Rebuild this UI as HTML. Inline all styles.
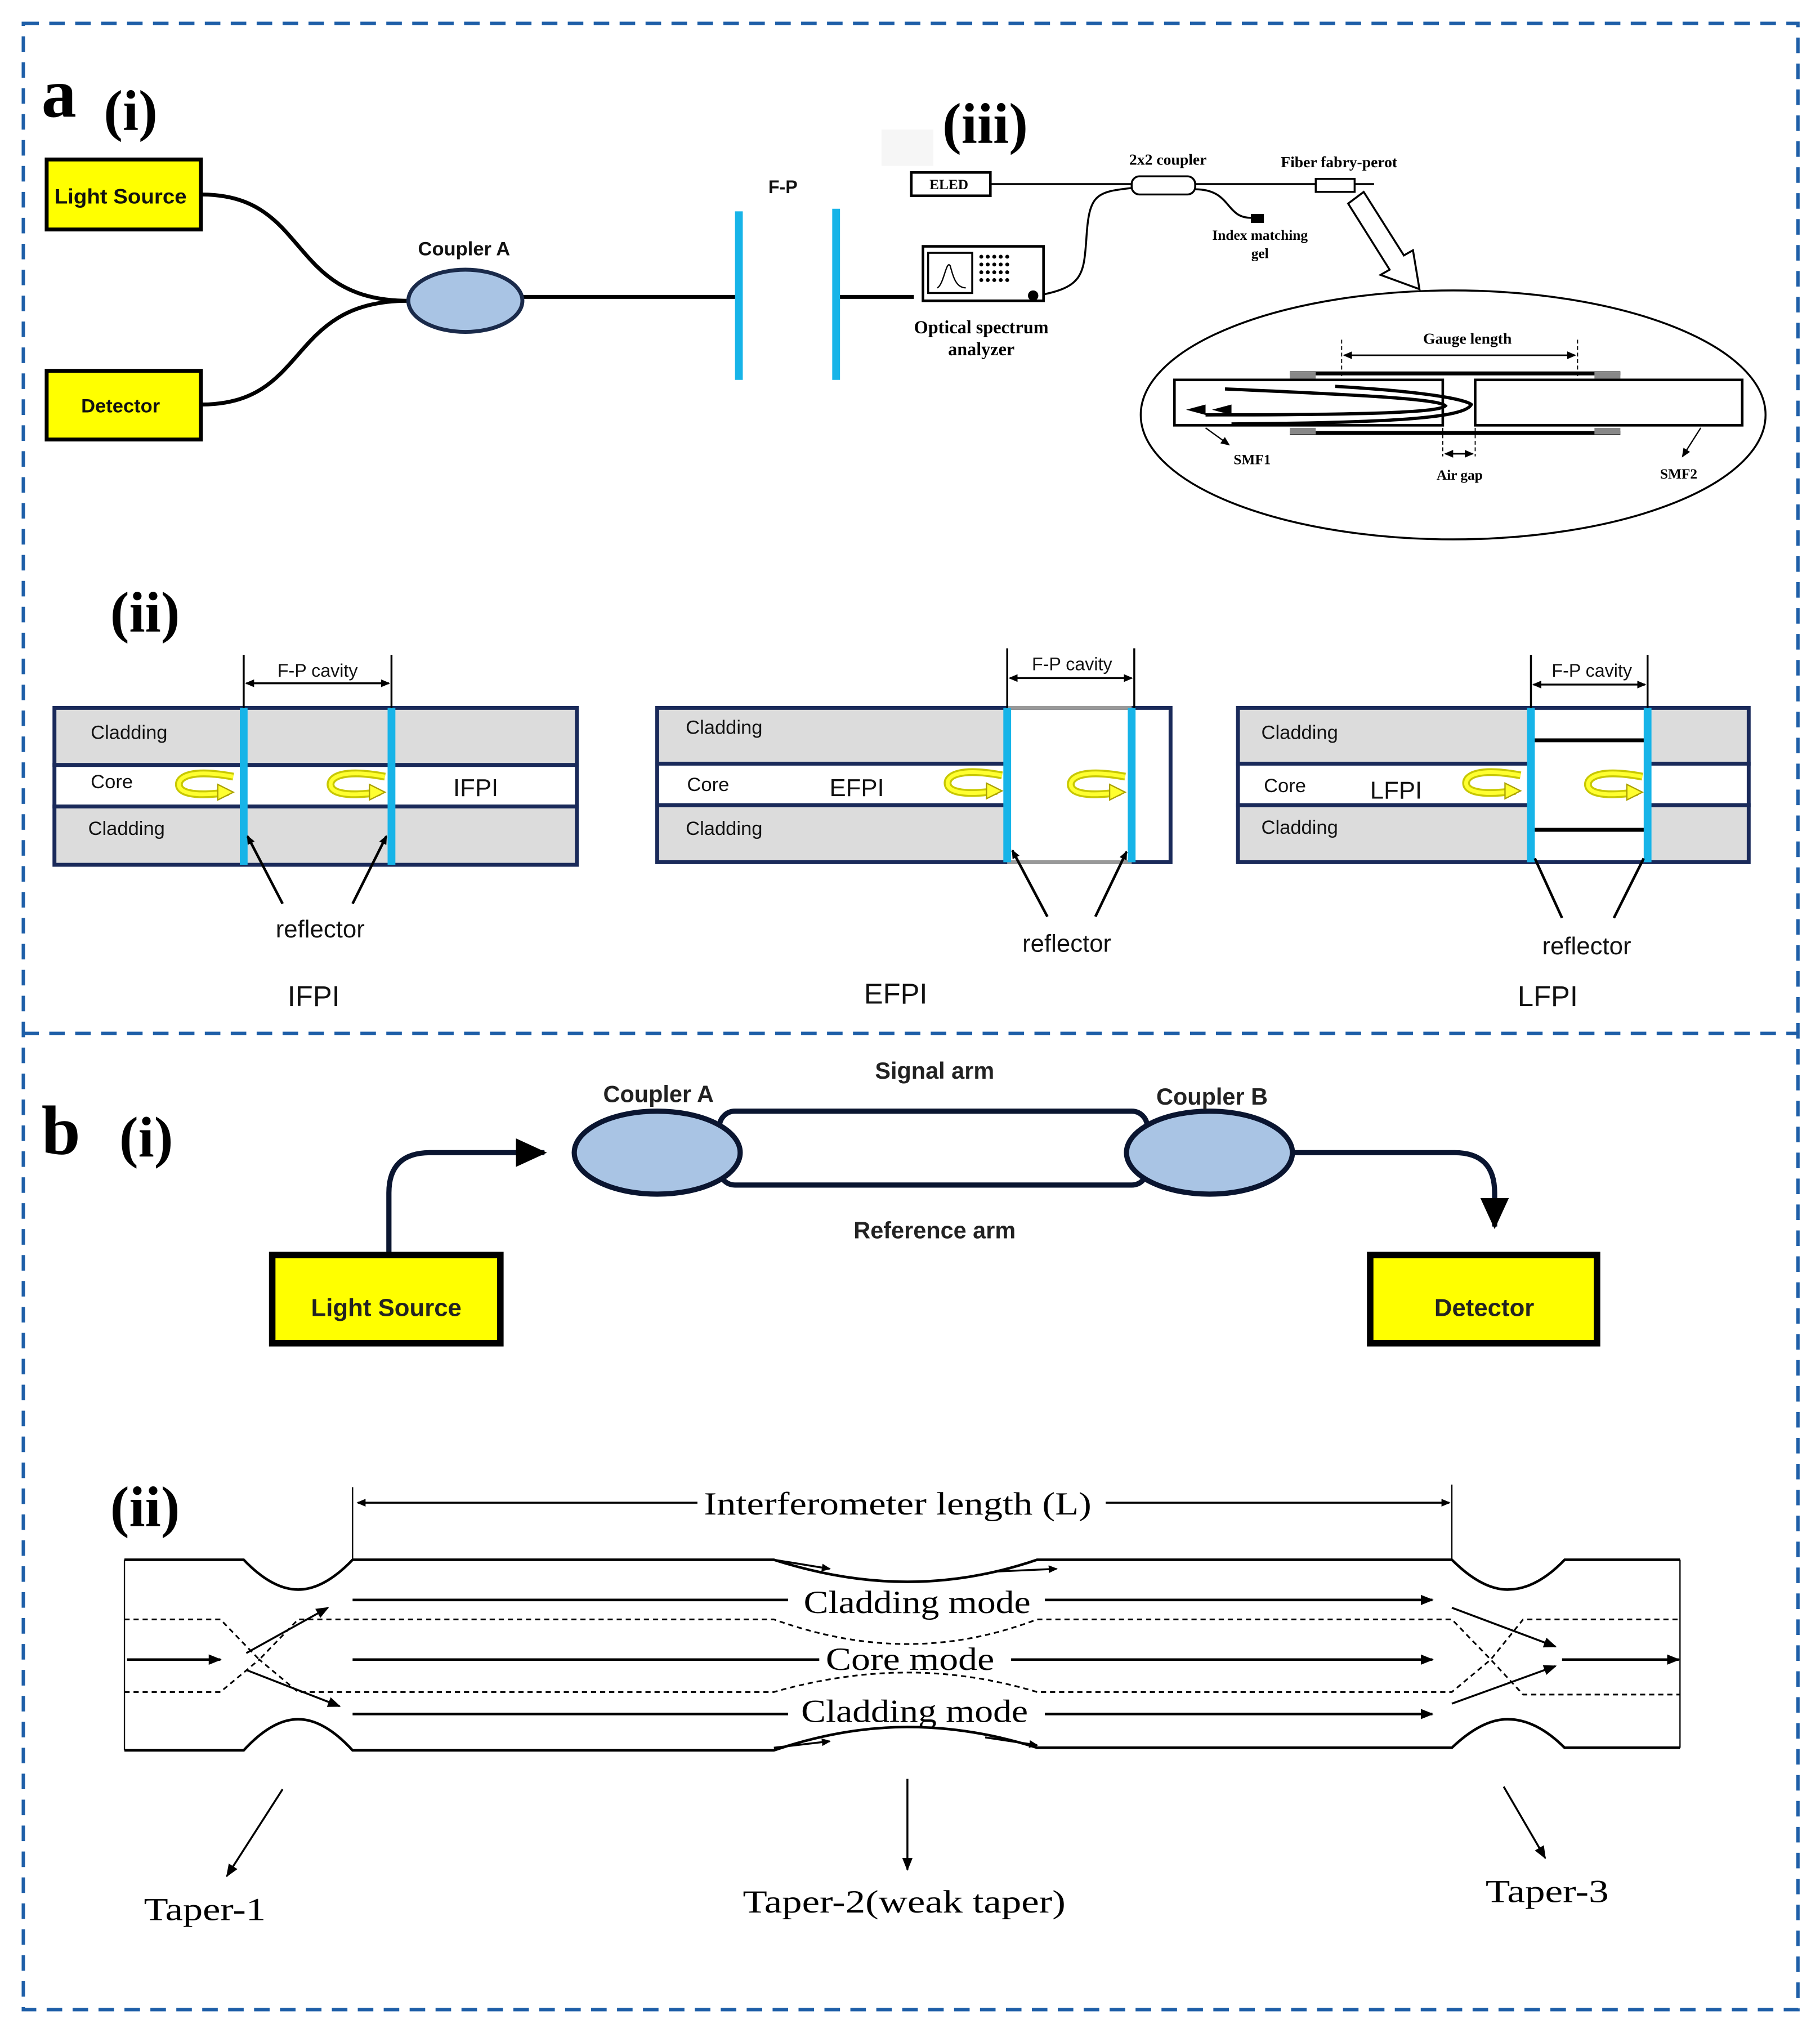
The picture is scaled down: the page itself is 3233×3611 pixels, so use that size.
<!DOCTYPE html>
<html><head><meta charset="utf-8"><style>html,body{margin:0;padding:0;background:#fff}svg{display:block}</style></head><body>
<svg width="3233" height="3611" viewBox="0 0 1404 1568" preserveAspectRatio="none" xmlns="http://www.w3.org/2000/svg">
<defs>
<marker id="ah" markerWidth="10" markerHeight="8" refX="9" refY="4" orient="auto" markerUnits="userSpaceOnUse"><path d="M0,0 L10,4 L0,8 Z" fill="#000"/></marker>
<marker id="ahs" markerWidth="7" markerHeight="6" refX="6" refY="3" orient="auto-start-reverse" markerUnits="userSpaceOnUse"><path d="M0,0 L7,3 L0,6 Z" fill="#000"/></marker>
<marker id="ahb" markerWidth="24" markerHeight="22" refX="22" refY="11" orient="auto" markerUnits="userSpaceOnUse"><path d="M0,0 L24,11 L0,22 Z" fill="#000"/></marker>
<g id="yarr"><path d="M42,-6 C10,-12 0,-6 0,0 C0,6 10,10 38,6" fill="none" stroke="#c8c800" stroke-width="6"/><path d="M42,-6 C10,-12 0,-6 0,0 C0,6 10,10 38,6" fill="none" stroke="#ffff30" stroke-width="3"/><path d="M30,0 L42,6 L30,12 Z" fill="#ffff30" stroke="#aaa000" stroke-width="1"/></g>
</defs>
<g fill="none" stroke="#1f5fa8" stroke-width="2.6" stroke-dasharray="12 8">
<rect x="18" y="18" width="1369" height="1532"/>
<line x1="18" y1="797" x2="1387" y2="797"/>
</g>
<g font-family="Liberation Serif, serif" font-weight="bold" fill="#000">
<text x="32" y="90" font-size="54">a</text>
<text x="80" y="100" font-size="44">(i)</text>
<text x="727" y="110" font-size="44">(iii)</text>
<text x="85" y="487" font-size="44">(ii)</text>
<text x="32" y="890" font-size="54">b</text>
<text x="92" y="892" font-size="44">(i)</text>
<text x="85" y="1177" font-size="44">(ii)</text>
</g>
<!-- a(i) -->
<g stroke="#000" stroke-width="3" fill="none">
<path d="M155,150 C240,150 220,232 315,232"/><path d="M155,312 C240,312 220,232 315,232"/>
<line x1="403" y1="229" x2="570" y2="229"/><line x1="645" y1="229" x2="705" y2="229"/>
</g>
<rect x="36" y="123" width="119" height="54" fill="#ffff00" stroke="#000" stroke-width="3"/>
<rect x="36" y="286" width="119" height="53" fill="#ffff00" stroke="#000" stroke-width="3"/>
<ellipse cx="359" cy="232" rx="44" ry="24" fill="#a9c4e4" stroke="#1a2a4a" stroke-width="3"/>
<rect x="567" y="163" width="6" height="130" fill="#17b4e8"/><rect x="642" y="161" width="6" height="132" fill="#17b4e8"/>
<g font-family="Liberation Sans, sans-serif" font-weight="bold" text-anchor="middle" fill="#111">
<text x="93" y="157" font-size="16" textLength="102" lengthAdjust="spacingAndGlyphs">Light Source</text>
<text x="93" y="318" font-size="15">Detector</text>
<text x="358" y="197" font-size="15">Coupler A</text>
<text x="604" y="149" font-size="14">F-P</text>
</g>
<!-- a(iii) -->
<rect x="680" y="100" width="40" height="28" fill="#f6f6f6"/>
<g stroke="#000" fill="none">
<line x1="764" y1="142" x2="1060" y2="142" stroke-width="1.5"/>
<rect x="703" y="133" width="61" height="18" stroke-width="2" fill="#fff"/>
<path d="M800,228 C835,222 836,212 838,185 C840,150 845,148 873,145" stroke-width="1.5"/>
<path d="M922,146 C950,146 945,168 965,168" stroke-width="1.5"/>
<rect x="873" y="136" width="49" height="14" rx="6" stroke-width="1.5" fill="#fff"/>
<rect x="1015" y="138" width="30" height="10" stroke-width="1.5" fill="#fff"/>
<rect x="712" y="190" width="93" height="42" stroke-width="2" fill="#fff"/>
<rect x="716" y="195" width="34" height="31" stroke-width="1.5"/>
<path d="M723,222 C728,220 730,200 733,205 C735,212 737,222 745,222" stroke-width="1"/>
<path d="M1040,157 L1072,208 L1065,212 L1095,223 L1090,193 L1083,197 L1052,148 Z" stroke-width="1.5" fill="#fff"/>
<ellipse cx="1121" cy="320" rx="241" ry="96" stroke-width="1.5"/>
<rect x="906" y="293" width="207" height="35" stroke-width="2"/>
<rect x="1138" y="293" width="206" height="35" stroke-width="2"/>
<line x1="995" y1="288" x2="1250" y2="288" stroke-width="3"/>
<line x1="995" y1="334" x2="1250" y2="334" stroke-width="3"/>
<path d="M1030,298 C1100,302 1130,308 1135,312 C1130,322 1080,326 950,327" stroke-width="2.5"/>
<path d="M945,300 C1060,305 1110,308 1115,313 C1110,318 1060,320 930,320" stroke-width="2.5"/>
<g stroke-width="0.8" stroke-dasharray="3 2"><line x1="1035" y1="262" x2="1035" y2="290"/><line x1="1217" y1="262" x2="1217" y2="290"/><line x1="1113" y1="330" x2="1113" y2="352"/><line x1="1138" y1="330" x2="1138" y2="352"/></g>
<line x1="1037" y1="274" x2="1215" y2="274" stroke-width="1.2" marker-start="url(#ahs)" marker-end="url(#ahs)"/>
<line x1="1115" y1="350" x2="1136" y2="350" stroke-width="1.2" marker-start="url(#ahs)" marker-end="url(#ahs)"/>
<line x1="930" y1="330" x2="948" y2="343" stroke-width="1" marker-end="url(#ahs)"/>
<line x1="1312" y1="330" x2="1298" y2="352" stroke-width="1" marker-end="url(#ahs)"/>
</g>
<g fill="#888"><rect x="995" y="287" width="20" height="5"/><rect x="1230" y="287" width="20" height="5"/><rect x="995" y="330" width="20" height="5"/><rect x="1230" y="330" width="20" height="5"/></g>
<path d="M950,320 L935,316 L950,312 Z M930,320 L915,316 L930,312Z" fill="#000"/>
<rect x="965" y="165" width="10" height="7" fill="#000"/>
<circle cx="797" cy="228" r="4" fill="#000"/>
<g fill="#000"><circle cx="757" cy="198" r="1.5"/><circle cx="762" cy="198" r="1.5"/><circle cx="767" cy="198" r="1.5"/><circle cx="772" cy="198" r="1.5"/><circle cx="777" cy="198" r="1.5"/><circle cx="757" cy="204" r="1.5"/><circle cx="762" cy="204" r="1.5"/><circle cx="767" cy="204" r="1.5"/><circle cx="772" cy="204" r="1.5"/><circle cx="777" cy="204" r="1.5"/><circle cx="757" cy="210" r="1.5"/><circle cx="762" cy="210" r="1.5"/><circle cx="767" cy="210" r="1.5"/><circle cx="772" cy="210" r="1.5"/><circle cx="777" cy="210" r="1.5"/><circle cx="757" cy="216" r="1.5"/><circle cx="762" cy="216" r="1.5"/><circle cx="767" cy="216" r="1.5"/><circle cx="772" cy="216" r="1.5"/><circle cx="777" cy="216" r="1.5"/></g>
<g font-family="Liberation Serif, serif" font-weight="bold" text-anchor="middle" fill="#000">
<text x="732" y="146" font-size="11">ELED</text>
<text x="901" y="127" font-size="12">2x2 coupler</text>
<text x="1033" y="129" font-size="12">Fiber fabry-perot</text>
<text x="972" y="185" font-size="11">Index matching</text>
<text x="972" y="199" font-size="11">gel</text>
<text x="757" y="257" font-size="14">Optical spectrum</text>
<text x="757" y="274" font-size="14">analyzer</text>
<text x="1132" y="265" font-size="12">Gauge length</text>
<text x="966" y="358" font-size="11">SMF1</text>
<text x="1126" y="370" font-size="11">Air gap</text>
<text x="1295" y="369" font-size="11">SMF2</text>
</g>
<!-- a(ii) panels -->
<g stroke="#1a2a5a" stroke-width="3">
<rect x="42" y="546" width="403" height="44" fill="#dcdcdc"/><rect x="42" y="590" width="403" height="32" fill="#fff"/><rect x="42" y="622" width="403" height="45" fill="#dcdcdc"/>
<rect x="507" y="546" width="270" height="43" fill="#dcdcdc"/><rect x="507" y="589" width="270" height="32" fill="#fff"/><rect x="507" y="621" width="270" height="44" fill="#dcdcdc"/>
<rect x="955" y="546" width="226" height="43" fill="#dcdcdc"/><rect x="955" y="589" width="226" height="32" fill="#fff"/><rect x="955" y="621" width="226" height="44" fill="#dcdcdc"/>
<rect x="1271" y="546" width="78" height="43" fill="#dcdcdc"/><rect x="1271" y="589" width="78" height="32" fill="#fff"/><rect x="1271" y="621" width="78" height="44" fill="#dcdcdc"/>
</g>
<rect x="777" y="546" width="126" height="119" fill="#fff" stroke="#1a2a5a" stroke-width="3"/>
<line x1="777" y1="546" x2="873" y2="546" stroke="#999" stroke-width="3"/><line x1="777" y1="665" x2="873" y2="665" stroke="#999" stroke-width="3"/>
<rect x="1181" y="546" width="90" height="119" fill="#fff" stroke="#1a2a5a" stroke-width="3"/>
<line x1="1181" y1="571" x2="1271" y2="571" stroke="#000" stroke-width="3"/><line x1="1181" y1="640" x2="1271" y2="640" stroke="#000" stroke-width="3"/>
<g fill="#17b4e8"><rect x="185" y="546" width="6" height="121"/><rect x="299" y="546" width="6" height="121"/><rect x="774" y="546" width="6" height="119"/><rect x="870" y="546" width="6" height="119"/><rect x="1178" y="546" width="6" height="119"/><rect x="1268" y="546" width="6" height="119"/></g>
<g stroke="#000" stroke-width="1.5" fill="none">
<line x1="188" y1="505" x2="188" y2="546"/><line x1="302" y1="505" x2="302" y2="546"/><line x1="190" y1="527" x2="300" y2="527" marker-start="url(#ahs)" marker-end="url(#ahs)"/>
<line x1="777" y1="500" x2="777" y2="546"/><line x1="875" y1="500" x2="875" y2="546"/><line x1="779" y1="523" x2="873" y2="523" marker-start="url(#ahs)" marker-end="url(#ahs)"/>
<line x1="1181" y1="505" x2="1181" y2="546"/><line x1="1271" y1="505" x2="1271" y2="546"/><line x1="1183" y1="528" x2="1269" y2="528" marker-start="url(#ahs)" marker-end="url(#ahs)"/>
<g stroke-width="2"><line x1="218" y1="697" x2="191" y2="645" marker-end="url(#ahs)"/><line x1="272" y1="697" x2="298" y2="645" marker-end="url(#ahs)"/>
<line x1="808" y1="707" x2="781" y2="656" marker-end="url(#ahs)"/><line x1="845" y1="707" x2="869" y2="657" marker-end="url(#ahs)"/>
<line x1="1205" y1="708" x2="1184" y2="662"/><line x1="1245" y1="708" x2="1268" y2="662"/></g>
</g>
<use href="#yarr" transform="translate(138,605)"/><use href="#yarr" transform="translate(255,605)"/>
<use href="#yarr" transform="translate(731,604)"/><use href="#yarr" transform="translate(826,605)"/>
<use href="#yarr" transform="translate(1131,604)"/><use href="#yarr" transform="translate(1225,605)"/>
<g font-family="Liberation Sans, sans-serif" fill="#111">
<text x="245" y="522" font-size="14" text-anchor="middle">F-P cavity</text>
<text x="827" y="517" font-size="14" text-anchor="middle">F-P cavity</text>
<text x="1228" y="522" font-size="14" text-anchor="middle">F-P cavity</text>
<text x="70" y="570" font-size="15">Cladding</text><text x="70" y="608" font-size="15">Core</text><text x="68" y="644" font-size="15">Cladding</text>
<text x="367" y="614" font-size="19" text-anchor="middle">IFPI</text>
<text x="529" y="566" font-size="15">Cladding</text><text x="530" y="610" font-size="15">Core</text><text x="529" y="644" font-size="15">Cladding</text>
<text x="661" y="614" font-size="19" text-anchor="middle">EFPI</text>
<text x="973" y="570" font-size="15">Cladding</text><text x="975" y="611" font-size="15">Core</text><text x="973" y="643" font-size="15">Cladding</text>
<text x="1077" y="616" font-size="19" text-anchor="middle">LFPI</text>
<text x="247" y="723" font-size="19" text-anchor="middle">reflector</text>
<text x="823" y="734" font-size="19" text-anchor="middle">reflector</text>
<text x="1224" y="736" font-size="19" text-anchor="middle">reflector</text>
<text x="242" y="776" font-size="22" text-anchor="middle">IFPI</text>
<text x="691" y="774" font-size="22" text-anchor="middle">EFPI</text>
<text x="1194" y="776" font-size="22" text-anchor="middle">LFPI</text>
</g>
<!-- b(i) -->
<rect x="555" y="857" width="330" height="57" rx="12" fill="none" stroke="#0a1530" stroke-width="4"/>
<ellipse cx="507" cy="889" rx="64" ry="32" fill="#a9c4e4" stroke="#0a1530" stroke-width="4"/>
<ellipse cx="933" cy="889" rx="64" ry="32" fill="#a9c4e4" stroke="#0a1530" stroke-width="4"/>
<g stroke="#0a1530" stroke-width="4" fill="none">
<path d="M300,968 L300,920 Q300,889 332,889 L420,889" marker-end="url(#ahb)"/>
<path d="M998,889 L1122,889 Q1153,889 1153,920 L1153,946" marker-end="url(#ahb)"/>
</g>
<rect x="210" y="968" width="176" height="68" fill="#ffff00" stroke="#000" stroke-width="5"/>
<rect x="1057" y="968" width="175" height="68" fill="#ffff00" stroke="#000" stroke-width="5"/>
<g font-family="Liberation Sans, sans-serif" font-weight="bold" text-anchor="middle" fill="#222">
<text x="721" y="832" font-size="18">Signal arm</text>
<text x="721" y="955" font-size="18">Reference arm</text>
<text x="508" y="850" font-size="18">Coupler A</text>
<text x="935" y="852" font-size="18">Coupler B</text>
<text x="298" y="1015" font-size="19">Light Source</text>
<text x="1145" y="1015" font-size="19">Detector</text>
</g>
<!-- b(ii) -->
<g stroke="#000" fill="none">
<path d="M96,1203 L188,1203 Q210,1226 230,1226 Q250,1226 272,1203 L597,1203 Q650,1220 700,1220 Q750,1220 800,1203 L1120,1203 Q1143,1226 1163,1226 Q1185,1226 1207,1203 L1296,1203" stroke-width="2"/>
<path d="M96,1350 L188,1350 Q210,1326 230,1326 Q250,1326 272,1350 L597,1350 Q650,1332 700,1332 Q750,1332 800,1348 L1120,1348 Q1143,1326 1163,1326 Q1185,1326 1207,1348 L1296,1348" stroke-width="2"/>
<line x1="96" y1="1203" x2="96" y2="1350" stroke-width="1"/><line x1="1296" y1="1203" x2="1296" y2="1348" stroke-width="1"/>
<g stroke-dasharray="4 3" stroke-width="1.3">
<path d="M96,1249 L170,1249 L200,1280 L230,1249 L597,1249 Q650,1268 700,1268 Q750,1268 800,1249 L1120,1249 L1150,1280 L1175,1249 L1296,1249"/>
<path d="M96,1305 L170,1305 L200,1280 L230,1305 L597,1305 Q650,1290 700,1290 Q750,1290 800,1305 L1120,1305 L1150,1280 L1175,1307 L1296,1307"/>
</g>
<line x1="272" y1="1147" x2="272" y2="1203" stroke-width="1"/><line x1="1120" y1="1145" x2="1120" y2="1203" stroke-width="1"/>
<line x1="538" y1="1159" x2="276" y2="1159" stroke-width="1.5" marker-end="url(#ahs)"/><line x1="853" y1="1159" x2="1118" y2="1159" stroke-width="1.5" marker-end="url(#ahs)"/>
<g stroke-width="2">
<line x1="272" y1="1234" x2="608" y2="1234"/><line x1="806" y1="1234" x2="1105" y2="1234" marker-end="url(#ah)"/>
<line x1="272" y1="1280" x2="632" y2="1280"/><line x1="780" y1="1280" x2="1105" y2="1280" marker-end="url(#ah)"/>
<line x1="272" y1="1322" x2="608" y2="1322"/><line x1="806" y1="1322" x2="1105" y2="1322" marker-end="url(#ah)"/>
<line x1="98" y1="1280" x2="170" y2="1280" marker-end="url(#ah)"/>
<line x1="1205" y1="1280" x2="1295" y2="1280" marker-end="url(#ah)"/>
</g>
<g stroke-width="1.5">
<line x1="190" y1="1275" x2="253" y2="1240" marker-end="url(#ah)"/><line x1="190" y1="1288" x2="262" y2="1316" marker-end="url(#ah)"/>
<line x1="1120" y1="1240" x2="1200" y2="1270" marker-end="url(#ah)"/><line x1="1120" y1="1314" x2="1200" y2="1285" marker-end="url(#ah)"/>
<line x1="597" y1="1203" x2="640" y2="1210" marker-end="url(#ahs)"/><line x1="770" y1="1212" x2="815" y2="1210" marker-end="url(#ahs)"/>
<line x1="597" y1="1348" x2="640" y2="1343" marker-end="url(#ahs)"/><line x1="760" y1="1340" x2="800" y2="1346" marker-end="url(#ahs)"/>
<line x1="218" y1="1380" x2="175" y2="1447" marker-end="url(#ah)"/>
<line x1="700" y1="1372" x2="700" y2="1442" marker-end="url(#ah)"/>
<line x1="1160" y1="1378" x2="1192" y2="1433" marker-end="url(#ah)"/>
</g>
</g>
<g font-family="Liberation Serif, serif" fill="#000" font-size="25" lengthAdjust="spacingAndGlyphs">
<text x="543" y="1168" textLength="299" lengthAdjust="spacingAndGlyphs">Interferometer length (L)</text>
<text x="620" y="1244" textLength="175" lengthAdjust="spacingAndGlyphs">Cladding mode</text>
<text x="637" y="1288" textLength="130" lengthAdjust="spacingAndGlyphs">Core mode</text>
<text x="618" y="1328" textLength="175" lengthAdjust="spacingAndGlyphs">Cladding mode</text>
<text x="111" y="1481" textLength="94" lengthAdjust="spacingAndGlyphs">Taper-1</text>
<text x="573" y="1475" textLength="249" lengthAdjust="spacingAndGlyphs">Taper-2(weak taper)</text>
<text x="1146" y="1467" textLength="95" lengthAdjust="spacingAndGlyphs">Taper-3</text>
</g>
</svg>
</body></html>
